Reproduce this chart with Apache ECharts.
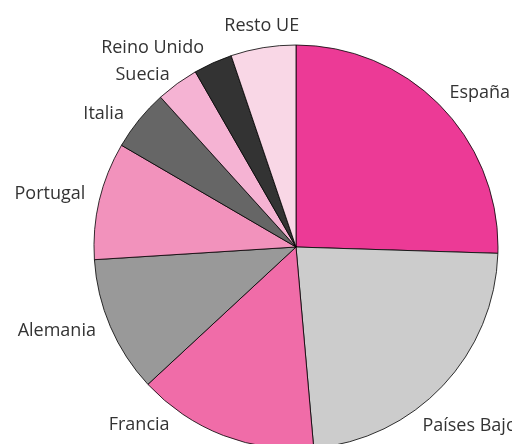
<!DOCTYPE html>
<html>
<head>
<meta charset="utf-8">
<script src="https://cdn.jsdelivr.net/npm/echarts@6/dist/echarts.min.js"></script>
<style>
  html, body { margin: 0; padding: 0; background: #fff; }
  #chart { width: 512px; height: 444px; }
</style>
</head>
<body>
<div id="chart"></div>
<script>
// Share by destination (percent), clockwise from 12 o'clock
const paises = ['España', 'Países Bajos', 'Francia', 'Alemania', 'Portugal', 'Italia', 'Suecia', 'Reino Unido', 'Resto UE'];
const cuotas = [25.5, 23.1, 14.5, 10.9, 9.4, 4.9, 3.4, 3.1, 5.2];
const colores = ['#EC3A96', '#CCCCCC', '#F06CA8', '#999999', '#F292BC', '#666666', '#F5B3D3', '#333333', '#F9D7E6'];

// Label placement around the pie: radial distance (px) and angular nudge (deg)
const labelDist = [241, 251, 236, 253, 252, 235, 232, 247, 225];
const labelTurn = [3.8, 1.5, 20.6, 4.2, -0.9, -4.0, -5.4, -11.2, 0.6];
const labelBaselineShift = 1.5;

const CX = 296, CY = 247, R = 202;
const total = cuotas.reduce((a, b) => a + b, 0);
const midAngles = [];
let acc = 0;
cuotas.forEach(v => { midAngles.push((acc + v / 2) / total * 360); acc += v; });

const chart = echarts.init(document.getElementById('chart'), null, { renderer: 'canvas' });
chart.setOption({
  animation: false,
  series: [{
    type: 'pie',
    center: [CX, CY],
    radius: [0, R],
    startAngle: 90,
    clockwise: true,
    avoidLabelOverlap: false,
    silent: true,
    itemStyle: { borderColor: '#000', borderWidth: 0.8 },
    label: {
      show: true,
      position: 'outside',
      fontFamily: 'Open Sans',
      fontSize: 18,
      color: '#333'
    },
    labelLine: { show: false },
    labelLayout: function (p) {
      const i = p.dataIndex;
      const a = (midAngles[i] + labelTurn[i]) * Math.PI / 180;
      return {
        x: CX + labelDist[i] * Math.sin(a),
        y: CY - labelDist[i] * Math.cos(a) + labelBaselineShift,
        align: 'center',
        verticalAlign: 'middle'
      };
    },
    data: paises.map((n, i) => ({ name: n, value: cuotas[i], itemStyle: { color: colores[i] } }))
  }]
});
</script>
</body>
</html>
